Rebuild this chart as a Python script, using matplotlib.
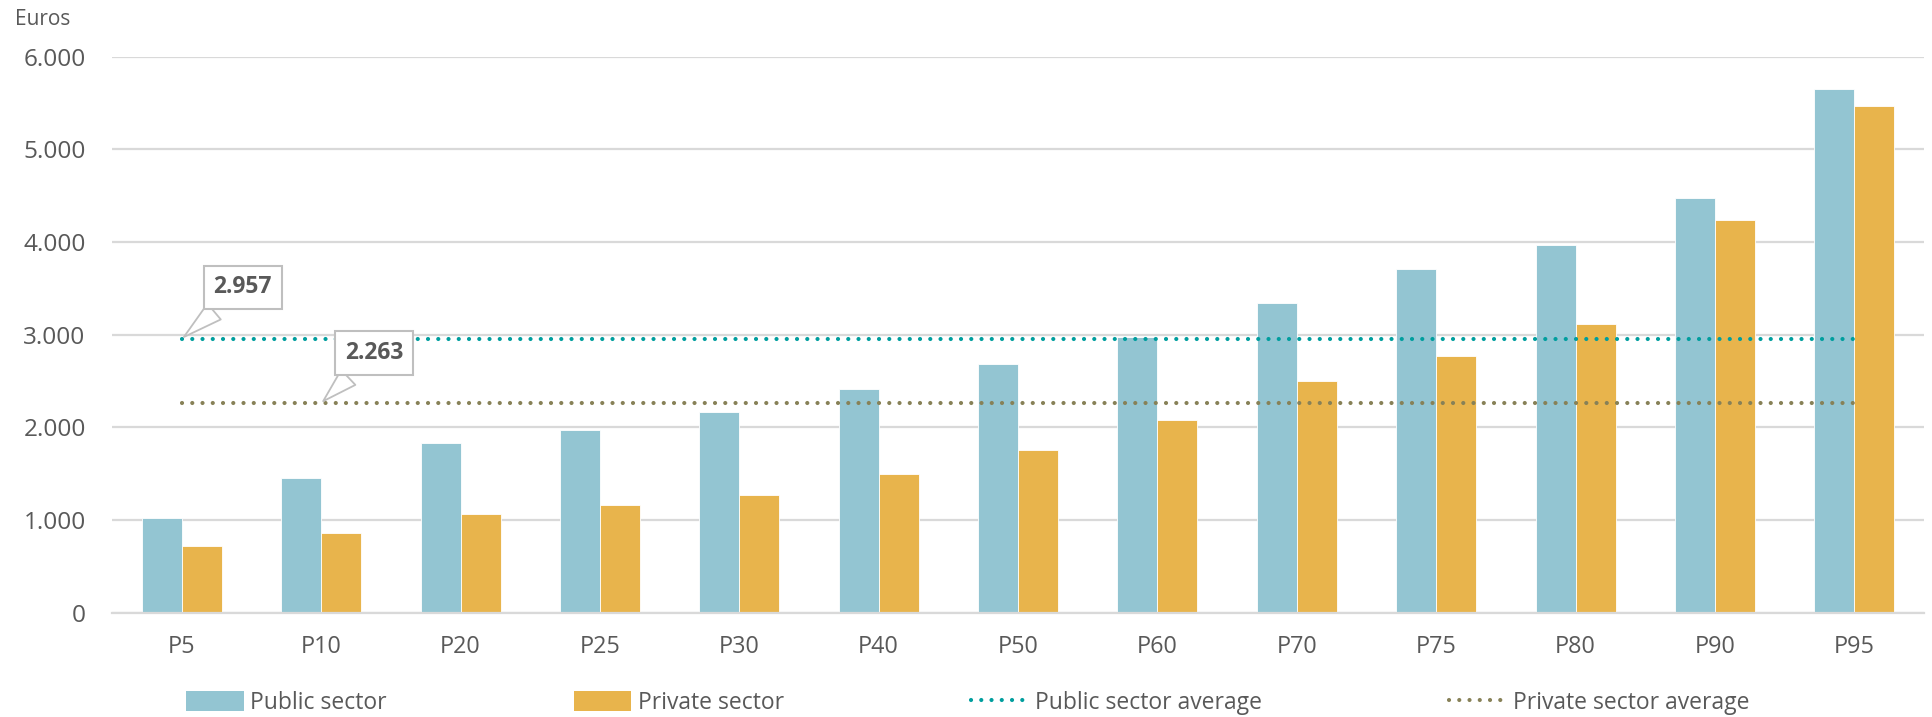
import matplotlib
matplotlib.use("Agg")
import matplotlib.pyplot as plt
from matplotlib.patches import Patch
from matplotlib.lines import Line2D
from matplotlib.ticker import FuncFormatter
import numpy as np

plt.rcParams['font.family'] = ['Open Sans', 'DejaVu Sans']

# data
percentiles = ['P5', 'P10', 'P20', 'P25', 'P30', 'P40', 'P50',
               'P60', 'P70', 'P75', 'P80', 'P90', 'P95']
public = [1021, 1456, 1834, 1975, 2166, 2410, 2684, 2976, 3346, 3709, 3972, 4472, 5648]
private = [722, 862, 1064, 1165, 1269, 1499, 1762, 2082, 2500, 2770, 3119, 4234, 5472]
public_avg = 2957
private_avg = 2263

c_public = '#93C5D2'
c_private = '#E8B44C'
c_pub_avg = '#009E9E'
c_priv_avg = '#878157'
grey_txt = '#595959'
grid_c = '#D9D9D9'

fig = plt.figure(figsize=(19.32, 7.17), dpi=100)
ax = fig.add_axes([0.058, 0.1452, 0.9379, 0.7757])

x = np.arange(len(percentiles))
w = 0.287
ax.bar(x - w / 2, public, w, color=c_public, edgecolor='white', linewidth=0.6, zorder=2)
ax.bar(x + w / 2, private, w, color=c_private, edgecolor='white', linewidth=0.6, zorder=2)

dots = (0, (0.01, 2.45))
lw_avg = 3.0
ax.plot(x, np.full(len(x), public_avg), color=c_pub_avg, lw=lw_avg, linestyle=dots,
        dash_capstyle='round', zorder=3)
ax.plot(x, np.full(len(x), private_avg), color=c_priv_avg, lw=lw_avg, linestyle=dots,
        dash_capstyle='round', zorder=3)

def fmt(v):
    return f"{v:,.0f}".replace(',', '.')

# callouts for the two averages
box = dict(boxstyle='square,pad=0.42', fc='white', ec='#BFBFBF', lw=1.5)
arrow = dict(arrowstyle='wedge,tail_width=0.9,shrink_factor=0.5', fc='white',
             ec='#BFBFBF', lw=1.3)
ax.annotate(fmt(public_avg), xy=(0, public_avg), xytext=(44, 37),
            textcoords='offset points', ha='center', va='center',
            fontsize=16.5, fontweight='bold', color=grey_txt, bbox=box,
            arrowprops=arrow, zorder=5)
ax.annotate(fmt(private_avg), xy=(1, private_avg), xytext=(38, 36),
            textcoords='offset points', ha='center', va='center',
            fontsize=16.5, fontweight='bold', color=grey_txt, bbox=box,
            arrowprops=arrow, zorder=5)

ax.set_xlim(-0.5, len(x) - 0.5)
ax.set_ylim(0, 6000)
ax.set_yticks(np.arange(0, 6001, 1000))
ax.yaxis.set_major_formatter(FuncFormatter(lambda v, p: fmt(v)))
ax.set_xticks(x)
ax.set_xticklabels(percentiles)
ax.tick_params(axis='y', length=0, pad=19, labelsize=17.6, labelcolor=grey_txt)
ax.tick_params(axis='x', length=0, pad=16, labelsize=16.8, labelcolor=grey_txt)
ax.grid(axis='y', color=grid_c, lw=1.6, zorder=0)
ax.set_axisbelow(True)
for s in ['top', 'right', 'left']:
    ax.spines[s].set_visible(False)
ax.spines['bottom'].set_color(grid_c)
ax.spines['bottom'].set_linewidth(1.6)

fig.text(0.0078, 0.973, 'Euros', fontsize=15, color=grey_txt, va='center', ha='left')

handles = [
    Patch(facecolor=c_public, label='Public sector'),
    Patch(facecolor=c_private, label='Private sector'),
    Line2D([0], [0], color=c_pub_avg, lw=lw_avg, linestyle=dots, dash_capstyle='round',
           label='Public sector average'),
    Line2D([0], [0], color=c_priv_avg, lw=lw_avg, linestyle=dots, dash_capstyle='round',
           label='Private sector average'),
]
leg = fig.legend(handles=handles, loc='center', bbox_to_anchor=(0.501, 0.02), ncol=4,
                 frameon=False, fontsize=16.5, handlelength=2.5, handleheight=0.95,
                 handletextpad=0.3, columnspacing=8.15, labelcolor=grey_txt)

fig.savefig('out.png', dpi=100, facecolor='white')
